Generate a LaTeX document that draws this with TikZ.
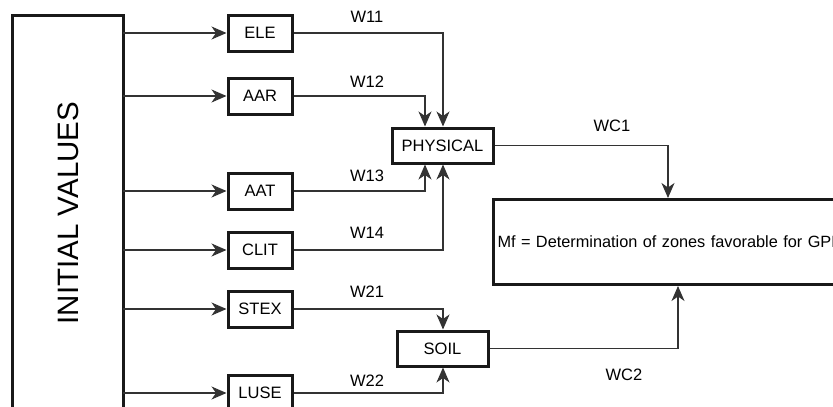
\documentclass[tikz,border=0pt]{standalone}
\usepackage{fontspec}
\setmainfont{Liberation Sans}
\usetikzlibrary{arrows.meta}
\begin{document}
\begin{tikzpicture}[x=1pt,y=-1pt,
  box/.style={draw=black!90, line width=3pt, minimum width=64pt, minimum height=36pt, inner sep=0pt, font=\fontsize{16.5}{18}\selectfont},
  conn/.style={draw=black!80, line width=1.1pt},
  arr/.style={conn, -{Stealth[length=15pt,width=13pt,inset=4.5pt]}},
  lbl/.style={font=\fontsize{16.5}{18}\selectfont, inner sep=0pt}]
\useasboundingbox (0,0) rectangle (833,407);
\clip (0,0) rectangle (833,407);
% left big box
\draw[draw=black!90, line width=3pt] (12,15) rectangle (123,430);
\coordinate (iv) at (123,0);
\node[rotate=90, font=\fontsize{29.5}{32}\selectfont, inner sep=0pt] (ivtext) at (68,213) {INITIAL VALUES};
% input boxes
\node[box] (ele)  at (260,33)  {ELE};
\node[box] (aar)  at (260,96)  {AAR};
\node[box] (aat)  at (260,191) {AAT};
\node[box] (clit) at (260,250) {CLIT};
\node[box] (stex) at (260,309) {STEX};
\node[box] (luse) at (260,393) {LUSE};
% aggregators
\node[box, minimum width=101pt, minimum height=35pt] (phys) at (442.5,145.5) {PHYSICAL};
\node[box, minimum width=91pt, minimum height=35pt] (soil) at (442.5,348.5) {SOIL};
\node[box, minimum width=378pt, minimum height=85pt, anchor=north west, text width=370pt, align=left, inner xsep=3pt, font=\fontsize{16.3}{18}\selectfont] (mf) at (492,198) {Mf = Determination of zones favorable for GPR};
% arrows from initial values
\foreach \n in {ele,aar,aat,clit,stex,luse}{
  \draw[arr] (iv |- \n.west) -- (\n.west);
}
% helper coordinates
\coordinate (xa) at (425,0);
\coordinate (xb) at (443,0);
\coordinate (xc1) at (668,0);
\coordinate (xc2) at (678,0);
% weights to physical
\draw[arr] (ele.east) -| (xb |- phys.north);
\draw[arr] (aar.east) -| (xa |- phys.north);
\draw[arr] (aat.east) -| (xa |- phys.south);
\draw[arr] (clit.east) -| (xb |- phys.south);
% weights to soil
\draw[arr] (stex.east) -| (xb |- soil.north);
\draw[arr] (luse.east) -| (xb |- soil.south);
% to mf
\draw[arr] (phys.east) -| (xc1 |- mf.north);
\draw[arr] (soil.east) -| (xc2 |- mf.south);
% labels
\node[lbl] (w11) at (367,17) {W11};
\node[lbl] (w12) at (367,82) {W12};
\node[lbl] (w13) at (367,176) {W13};
\node[lbl] (w14) at (367,233) {W14};
\node[lbl] (w21) at (367,292) {W21};
\node[lbl] (w22) at (367,381) {W22};
\node[lbl] (wc1) at (612,126) {WC1};
\node[lbl] (wc2) at (624,375) {WC2};
\end{tikzpicture}
\end{document}
